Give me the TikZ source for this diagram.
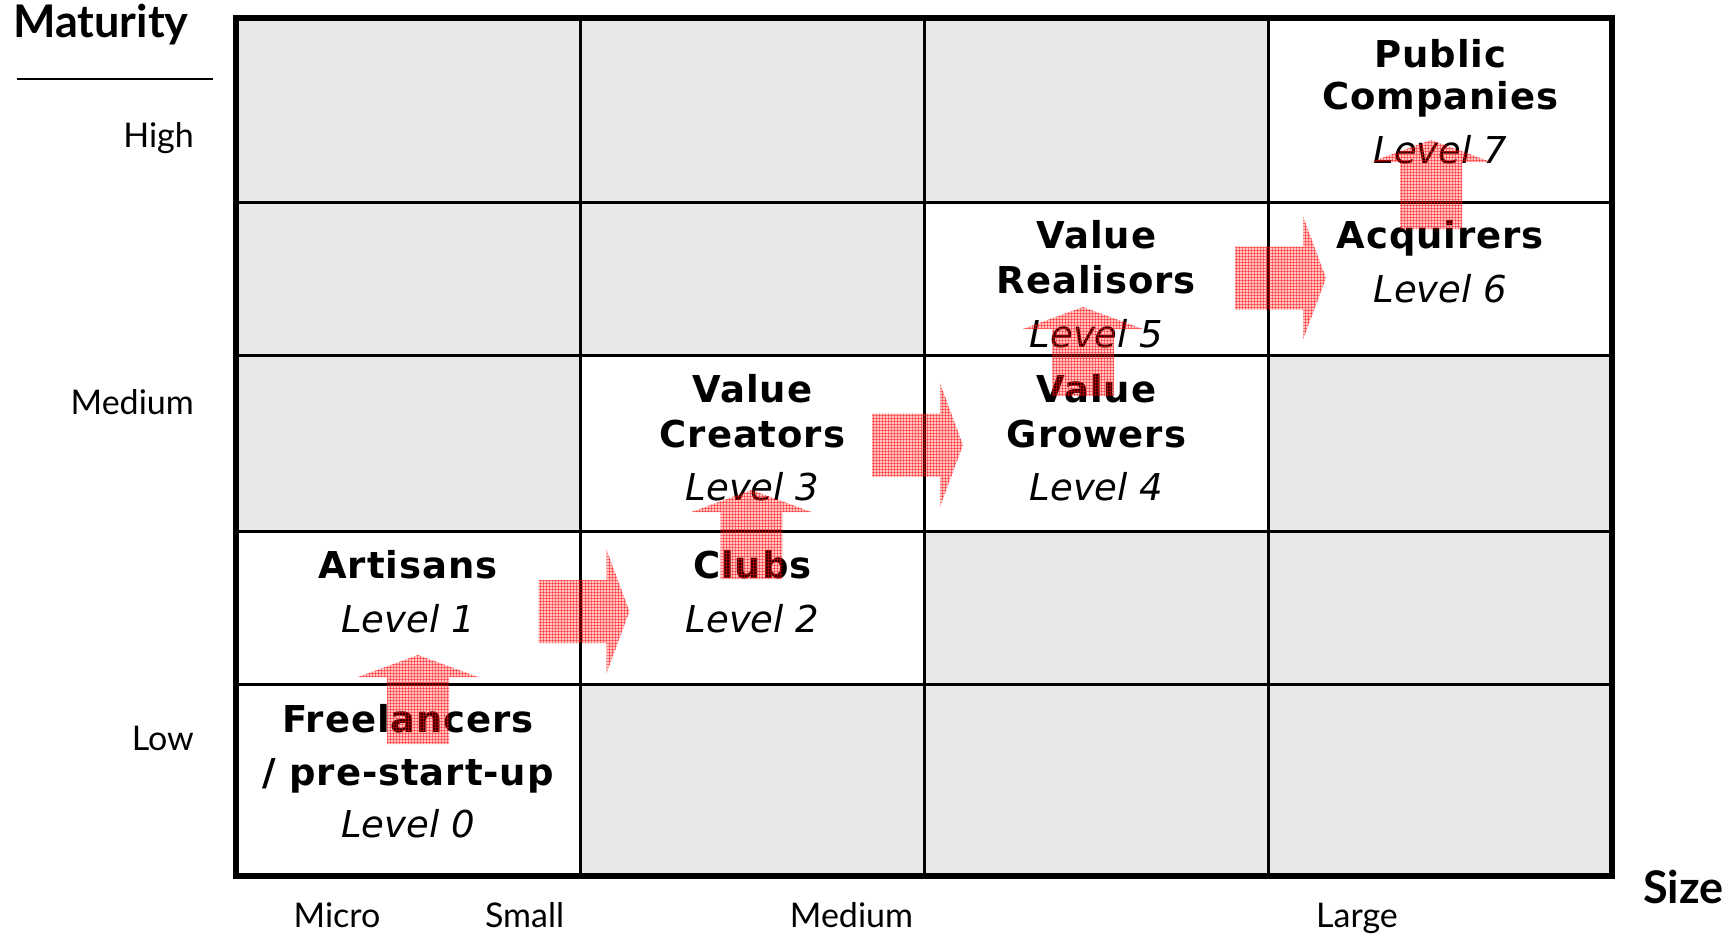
\documentclass[tikz,border=0pt]{standalone}
\usepackage{fontspec}
\setmainfont{DejaVu Sans}
\newfontfamily\stageboldfont{DejaVu Sans}[LetterSpace=2.5]
\newfontfamily\axisfont{Lato}
\usetikzlibrary{patterns}

\definecolor{cellgray}{RGB}{232,232,232}

\tikzset{
  cellfill/.style={fill=cellgray, draw=none},
  gridline/.style={line width=3pt, black},
  frameline/.style={line width=6pt, black},
  stagename/.style={anchor=base, inner sep=0pt, font=\fontsize{37}{40}\selectfont\stageboldfont\bfseries},
  stagelevel/.style={anchor=base, inner sep=0pt, font=\fontsize{37}{40}\selectfont\itshape},
  axislabel/.style={inner sep=0pt, font=\fontsize{34}{38}\selectfont\axisfont},
  axistitle/.style={inner sep=0pt, font=\fontsize{45}{50}\selectfont\axisfont\bfseries},
  blockarrow/.style={fill=red, fill opacity=0.22, draw=none},
  blockgrain/.style={pattern=grid, pattern color=red, opacity=0.45, draw=none},
}

\begin{document}
\begin{tikzpicture}[x=1pt, y=-1pt]
\useasboundingbox (0,0) rectangle (1735,934);

% column edges: 236, 580.5, 924.5, 1268.5, 1612
% row edges:    18.5, 202.5, 355.5, 531.5, 684, 876
\fill[white] (236,18.5) rectangle (1612,876);
% shaded (empty) cells
\fill[cellfill] (236,18.5)   rectangle (1268.5,202.5);
\fill[cellfill] (236,202.5)  rectangle (924.5,355.5);
\fill[cellfill] (236,355.5)  rectangle (580.5,531.5);
\fill[cellfill] (1268.5,355.5) rectangle (1612,531.5);
\fill[cellfill] (924.5,531.5) rectangle (1612,684);
\fill[cellfill] (580.5,684)  rectangle (1612,876);

% inner grid lines
\foreach \gx in {580.5, 924.5, 1268.5}
  \draw[gridline] (\gx,18.5) -- (\gx,876);
\foreach \gy in {202.5, 355.5, 531.5, 684}
  \draw[gridline] (236,\gy) -- (1612,\gy);
% outer frame
\draw[frameline] (236,18.5) rectangle (1612,876);

% vertical axis
\node[axistitle, anchor=base west] (maturity) at (13,38) {Maturity};
\coordinate (rulestart) at (17,79);
\coordinate (ruleend) at (213,79);
\draw[line width=2pt] (rulestart) -- (ruleend);
\node[axislabel, anchor=base east] (high) at (194,147) {High};
\node[axislabel, anchor=base east] (medium) at (194,414) {Medium};
\node[axislabel, anchor=base east] (low) at (194,750) {Low};

% horizontal axis
\node[axislabel, anchor=base] (micro) at (337,927) {Micro};
\node[axislabel, anchor=base] (small) at (524.5,927) {Small};
\node[axislabel, anchor=base] (mediumsize) at (851.5,927) {Medium};
\node[axislabel, anchor=base] (large) at (1357,927) {Large};
\node[axistitle, anchor=base west] (size) at (1643,903) {Size};

% stages
\node[stagename] (public) at (1440.25,67) {Public};
\node[stagename] (companies) at (1440.25,110) {Companies};
\node[stagelevel] (lvl7) at (1440.25,163) {Level 7};

\node[stagename] (acquirers) at (1440.25,248) {Acquirers};
\node[stagelevel] (lvl6) at (1440.25,302) {Level 6};

\node[stagename] (realisorsA) at (1096.5,248) {Value};
\node[stagename] (realisorsB) at (1096.5,293) {Realisors};
\node[stagelevel] (lvl5) at (1096.5,347) {Level 5};

\node[stagename] (growersA) at (1096.5,402) {Value};
\node[stagename] (growersB) at (1096.5,447) {Growers};
\node[stagelevel] (lvl4) at (1096.5,500) {Level 4};

\node[stagename] (creatorsA) at (752.5,402) {Value};
\node[stagename] (creatorsB) at (752.5,447) {Creators};
\node[stagelevel] (lvl3) at (752.5,500) {Level 3};

\node[stagename] (clubs) at (752.5,578) {Clubs};
\node[stagelevel] (lvl2) at (752.5,632) {Level 2};

\node[stagename] (artisans) at (408,578) {Artisans};
\node[stagelevel] (lvl1) at (408,632) {Level 1};

\node[stagename] (freelancers) at (408,732) {Freelancers};
\node[stagename] (prestart) at (408,785) {/ pre-start-up};
\node[stagelevel] (lvl0) at (408,837) {Level 0};

% block arrows between stages
\coordinate (up1) at (418,744);
\coordinate (up2) at (751.5,579);
\coordinate (up3) at (1083,396);
\coordinate (up4) at (1431,229);
\coordinate (rt1) at (538.5,611.5);
\coordinate (rt2) at (872,445);
\coordinate (rt3) at (1235,278);

\foreach \a in {up1,up2,up3,up4}{
  \foreach \s in {blockarrow,blockgrain}
    \path[\s] (\a) ++(-31,0) -- ++(0,-67) -- ++(-29,0) -- ++(60,-22)
      -- ++(60,22) -- ++(-29,0) -- ++(0,67) -- cycle;
}
\foreach \a in {rt1,rt2,rt3}{
  \foreach \s in {blockarrow,blockgrain}
    \path[\s] (\a) ++(0,-31.5) -- ++(68,0) -- ++(0,-30.5) -- ++(23,62)
      -- ++(-23,62) -- ++(0,-30.5) -- ++(-68,0) -- cycle;
}
\end{tikzpicture}
\end{document}
